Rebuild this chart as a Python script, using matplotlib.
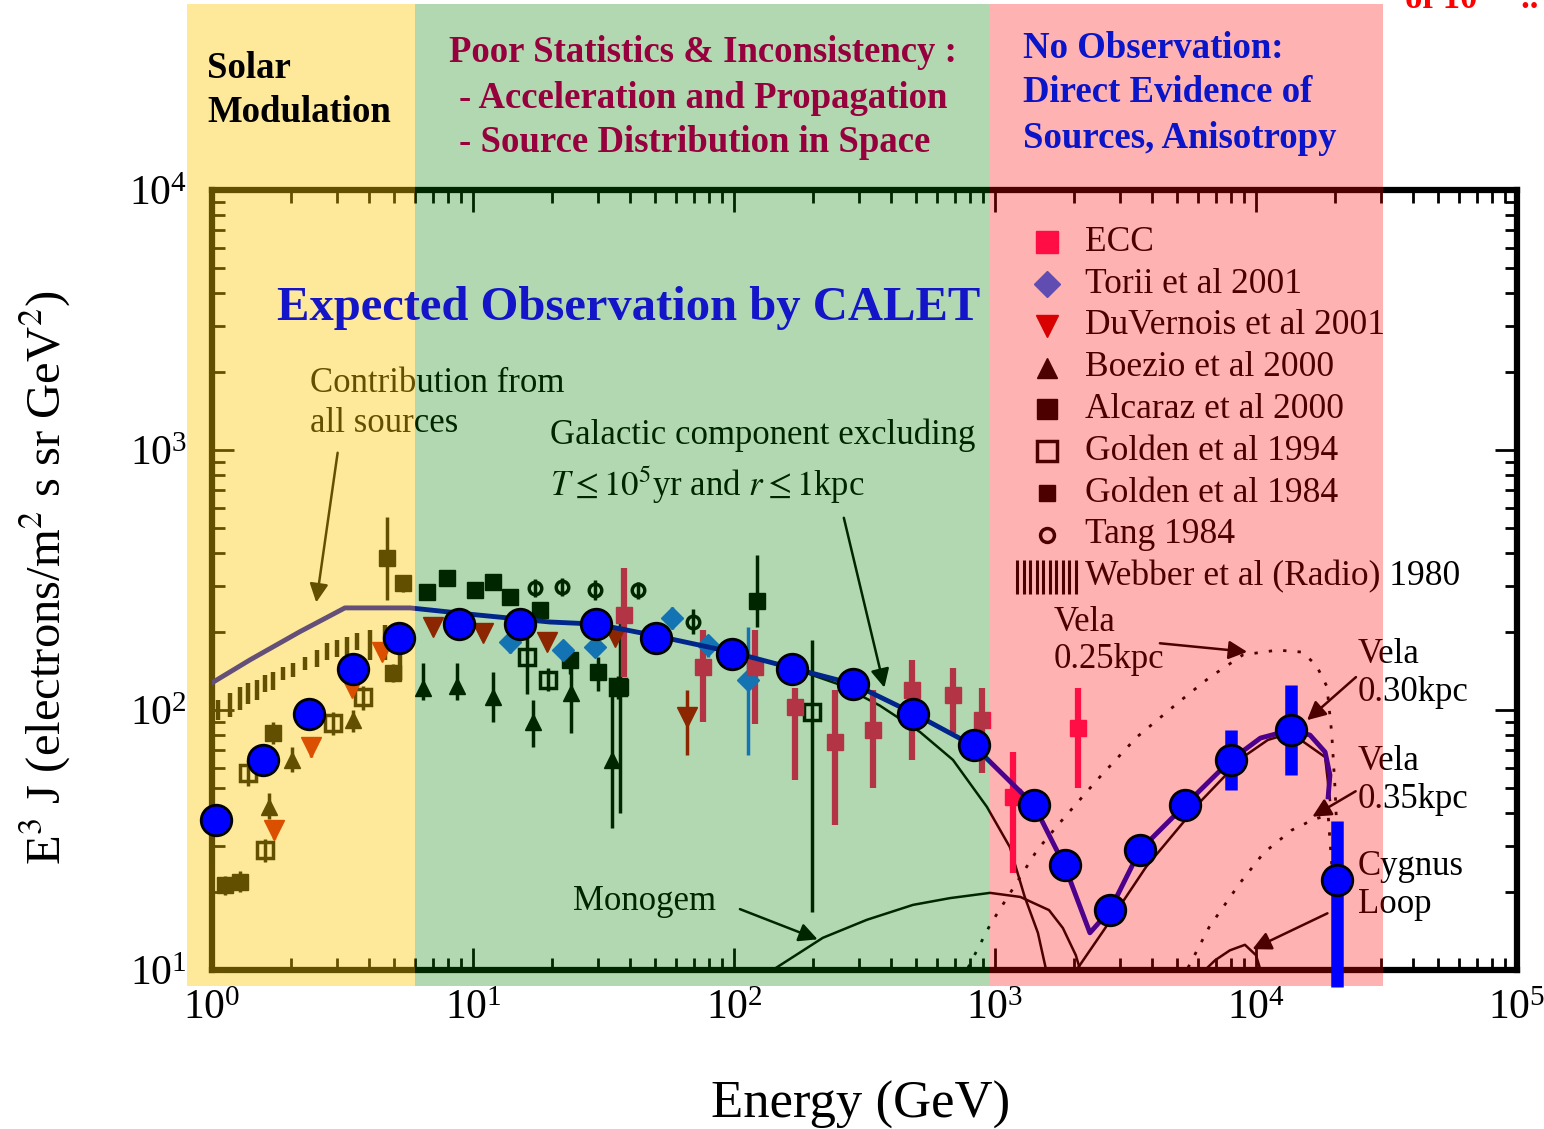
import matplotlib
matplotlib.use("Agg")
import matplotlib.pyplot as plt
import numpy as np
from matplotlib.patches import Rectangle

plt.rcParams["font.family"] = ["Liberation Serif", "DejaVu Serif"]
plt.rcParams["mathtext.fontset"] = "stix"

# CALET expected points (GeV, E^3 J)
calet_e = [1.04, 1.57, 2.35, 3.47, 5.2, 8.84, 15.1, 29.6, 50.2, 98.2, 167, 286, 485, 831,
           1410, 1850, 2760, 3590, 5350, 8020, 13600, 20400]
calet_j = [37.8, 64.3, 96.6, 144, 189, 214, 214, 214, 189, 164, 144, 126, 96.6, 73.3,
           43.1, 25.3, 17.0, 29.0, 43.1, 64.3, 83.8, 22.2]
calet_err_e = [8020, 13600, 20400]
calet_err_hi = [83.8, 124.7, 37.4]
calet_err_lo = [49.2, 56.2, 8.6]

# model curves
total_e = [1.01, 1.40, 2.17, 3.23, 5.74, 10.4, 19.7, 29.6, 50.2, 98.2, 167, 286, 485, 831,
           1410, 1850, 2310, 2760, 3590, 5350, 8020, 10400, 13600, 16100, 18400, 19200, 18900]
total_j = [128, 156, 200, 247, 247, 232, 218, 214, 193, 167, 145, 126, 97.3, 72.7,
           43.1, 25.1, 13.9, 17.0, 28.9, 43.1, 64.3, 78.0, 83.8, 80.1, 68.9, 56.2, 46.3]
galactic_e = [167, 255, 362, 516, 690, 931, 1140, 1300, 1460, 1570]
galactic_j = [145, 125, 104, 82.3, 64.3, 42.4, 29.7, 19.1, 13.9, 10.0]
monogem_e = [137, 219, 323, 485, 672, 957, 1250, 1610, 1820, 2040, 2120]
monogem_j = [9.83, 13.3, 15.6, 17.8, 18.9, 19.8, 19.1, 17.0, 14.5, 11.4, 10.0]
vela25_e = [788, 957, 1450, 1770, 2460, 3500, 5160, 6610, 8920, 12100, 15000, 17000,
            18700, 19500, 20100, 20400]
vela25_j = [10.2, 14.9, 28.9, 36.8, 53.8, 78.8, 109, 133, 163, 170, 167, 149, 123, 81.6,
            49.3, 34.5]
vela30_e = [2080, 2620, 3790, 6210, 8920, 11100, 13600, 18400, 19200]
vela30_j = [10.2, 14.3, 24.9, 45.1, 65.9, 76.7, 81.6, 65.9, 45.1]
vela35_e = [5490, 6610, 8680, 10700, 13700, 16500, 18900, 19200, 19700]
vela35_j = [10.2, 14.6, 21.6, 28.2, 34.5, 37.8, 39.5, 31.6, 22.2]
cygnus_e = [6380, 6970, 7940, 9070, 10000, 10400]
cygnus_j = [10.0, 10.9, 11.9, 12.5, 11.4, 10.0]

# measurements
ecc_e = [37.9, 76.1, 120, 171, 244, 341, 481, 690, 891, 1170, 2080]
ecc_j = [232, 146, 146, 103, 75.3, 83.8, 119, 114, 91.6, 46.3, 85.3]
ecc_hi = [352, 203, 203, 122, 119, 119, 156, 145, 122, 68.9, 122]
ecc_lo = [134, 90, 88, 53.8, 36.2, 50.2, 64.3, 81.7, 57.3, 23.6, 50.2]

torii_e = [13.9, 22.1, 29.3, 57.9, 79.5, 113]
torii_j = [183, 170, 175, 226, 178, 130]
torii_hi = [200, 185, 190, 250, 195, 208]
torii_lo = [165, 155, 160, 205, 160, 67.1]

duv_e = [1.73, 2.39, 3.44, 4.48, 7.02, 10.9, 19.2, 35.0, 66.1]
duv_j = [34.5, 72.1, 122, 167, 208, 198, 183, 191, 94]
duv_hi = [37, 78, 130, 178, 220, 210, 194, 202, 119]
duv_lo = [32, 66, 114, 156, 196, 186, 172, 180, 67]

boezio_e = [1.65, 2.03, 3.47, 6.43, 8.68, 11.9, 17.0, 23.7, 34.1]
boezio_j = [42.4, 64.3, 91.6, 122, 124, 112, 90, 116, 64.3]
boezio_hi = [48, 72, 100, 152, 152, 140, 109, 156, 130]
boezio_lo = [38, 58, 82, 109, 109, 90, 72, 81.6, 35.2]

alcaraz_e = [1.71, 4.94, 5.39, 6.66, 10.2, 13.9, 18.1, 23.5, 30.1, 36.6]
alcaraz_j = [81.6, 139, 308, 284, 289, 272, 243, 156, 140, 123]
alcaraz_hi = [90, 150, 330, 300, 305, 290, 260, 175, 160, 240]
alcaraz_lo = [74, 128, 285, 268, 272, 255, 226, 138, 118, 40]

golden94_e = [1.37, 1.60, 2.91, 3.79, 16.1, 19.4, 35.9, 199]
golden94_j = [57.3, 28.9, 89.1, 112, 160, 130, 123, 98.2]
golden94_hi = [64, 32, 98, 124, 200, 145, 135, 186]
golden94_lo = [51, 26, 80, 100, 115, 118, 110, 16.7]

golden84_e = [1.12, 1.28, 4.68, 7.95, 11.9, 122]
golden84_j = [21.2, 21.8, 384, 322, 311, 263]
golden84_hi = [23, 24, 552, 340, 330, 395]
golden84_lo = [19.5, 20, 265, 305, 295, 208]

tang_e = [17.3, 21.9, 29.3, 42.9, 69.6]
tang_j = [295, 297, 289, 289, 218]
tang_hi = [320, 322, 315, 312, 245]
tang_lo = [272, 275, 265, 268, 196]

webber_e = [1.05, 1.17, 1.28, 1.37, 1.49, 1.60, 1.71, 1.87, 2.04, 2.27, 2.52, 2.76, 3.01,
            3.29, 3.59, 4.03, 4.60, 5.25]
webber_hi = [109, 116, 123, 127, 130, 136, 140, 146, 152, 160, 170, 181, 186, 191, 198,
             203, 212, 212]
webber_lo = [91.6, 94, 100, 105, 109, 117, 119, 130, 134, 143, 146, 156, 160, 163, 170,
             156, 156, 130]

legend_labels = ["ECC", "Torii et al 2001", "DuVernois et al 2001", "Boezio et al 2000",
                 "Alcaraz et al 2000", "Golden et al 1994", "Golden et al 1984",
                 "Tang 1984", "Webber et al (Radio) 1980"]


def yerr(j, lo, hi):
    j = np.array(j)
    return [j - np.array(lo), np.array(hi) - j]


fig = plt.figure(figsize=(15.44, 11.29), dpi=100)
rect = [212 / 1544, 1 - 970 / 1129, 1305 / 1544, 780 / 1129]
ax = fig.add_axes(rect)
ax.set_xscale("log")
ax.set_yscale("log")
ax.set_xlim(1, 1e5)
ax.set_ylim(10, 1e4)

# curves
ax.plot(total_e, total_j, color="#0000c8", lw=3.5, zorder=3)
ax.plot(galactic_e, galactic_j, color="black", lw=1.8)
ax.plot(monogem_e, monogem_j, color="black", lw=1.8)
ax.plot(vela25_e, vela25_j, color="black", lw=2, ls=(0, (1.2, 4)))
ax.plot(vela30_e, vela30_j, color="black", lw=1.8)
ax.plot(vela35_e, vela35_j, color="black", lw=2, ls=(0, (1.2, 4)))
ax.plot(cygnus_e, cygnus_j, color="black", lw=1.8)

# data sets
ax.vlines(webber_e, webber_lo, webber_hi, color="black", lw=3.2)
ax.errorbar(golden84_e, golden84_j, yerr=yerr(golden84_j, golden84_lo, golden84_hi),
            fmt="s", ms=11, color="black", elinewidth=2.5, capsize=0)
ax.errorbar(alcaraz_e, alcaraz_j, yerr=yerr(alcaraz_j, alcaraz_lo, alcaraz_hi),
            fmt="s", ms=12, color="black", elinewidth=2.5, capsize=0)
ax.errorbar(golden94_e, golden94_j, yerr=yerr(golden94_j, golden94_lo, golden94_hi),
            fmt="s", ms=11, mfc="none", mec="black", mew=2.5, color="black",
            elinewidth=2.5, capsize=0)
ax.errorbar(tang_e, tang_j, yerr=yerr(tang_j, tang_lo, tang_hi),
            fmt="o", ms=9, mfc="none", mec="black", mew=2.5, color="black",
            elinewidth=2.5, capsize=0)
ax.errorbar(boezio_e, boezio_j, yerr=yerr(boezio_j, boezio_lo, boezio_hi),
            fmt="^", ms=12, color="black", elinewidth=2.5, capsize=0)
ax.errorbar(duv_e, duv_j, yerr=yerr(duv_j, duv_lo, duv_hi),
            fmt="v", ms=14, color="#c80000", elinewidth=2.5, capsize=0)
ax.errorbar(torii_e, torii_j, yerr=yerr(torii_j, torii_lo, torii_hi),
            fmt="D", ms=11, color="#1e6eff", elinewidth=2.5, capsize=0)
ax.errorbar(ecc_e, ecc_j, yerr=yerr(ecc_j, ecc_lo, ecc_hi),
            fmt="s", ms=12, color="#ff1464", elinewidth=4.5, capsize=0)

# annotations
tfont = dict(fontsize=25, color="black")
ax.text(2.37, 1810, "Contribution from", va="center", **tfont)
ax.text(2.37, 1270, "all sources", va="center", **tfont)
ax.text(19.7, 1140, "Galactic component excluding", va="center", **tfont)
ax.text(19.7, 733, r"$T \leq 10^5$yr and $r \leq 1$kpc", va="center", **tfont)
ax.text(24.2, 18.3, "Monogem", va="center", **tfont)
ax.text(1670, 218, "Vela", va="center", **tfont)
ax.text(1670, 157, "0.25kpc", va="center", **tfont)
ax.text(24600, 163, "Vela", va="center", **tfont)
ax.text(24600, 117, "0.30kpc", va="center", **tfont)
ax.text(24600, 63.1, "Vela", va="center", **tfont)
ax.text(24600, 45.1, "0.35kpc", va="center", **tfont)
ax.text(24600, 25.1, "Cygnus", va="center", **tfont)
ax.text(24600, 17.8, "Loop", va="center", **tfont)

aprops = dict(arrowstyle="-|>", color="black", lw=1.8, mutation_scale=28)
ax.annotate("", xy=(2.50, 253), xytext=(3.04, 1000), arrowprops=aprops)
ax.annotate("", xy=(379, 119), xytext=(262, 562), arrowprops=aprops)
ax.annotate("", xy=(214, 13.0), xytext=(103, 17.3), arrowprops=aprops)
ax.annotate("", xy=(9480, 167), xytext=(4180, 181), arrowprops=aprops)
ax.annotate("", xy=(15400, 89.9), xytext=(24600, 136), arrowprops=aprops)
ax.annotate("", xy=(16100, 38.4), xytext=(24600, 49.3), arrowprops=aprops)
ax.annotate("", xy=(9480, 11.9), xytext=(19200, 16.7), arrowprops=aprops)

# legend drawn by hand
leg_styles = [
    dict(marker="s", ms=16, color="#ff1464"),
    dict(marker="D", ms=13, color="#1e6eff"),
    dict(marker="v", ms=16, color="#c80000"),
    dict(marker="^", ms=15, color="black"),
    dict(marker="s", ms=15, color="black"),
    dict(marker="s", ms=15, mfc="none", mec="black", mew=2.5),
    dict(marker="s", ms=12, color="black"),
    dict(marker="o", ms=10, mfc="none", mec="black", mew=2.5),
]
for i, label in enumerate(legend_labels):
    ly = 0.933 - i * 0.0536
    if i < len(leg_styles):
        ax.plot([0.640], [ly], transform=ax.transAxes, ls="none", **leg_styles[i])
    else:
        ax.vlines(np.linspace(0.617, 0.662, 10), ly - 0.022, ly + 0.022,
                  transform=ax.transAxes, color="black", lw=2.2)
    ax.text(0.669, ly, label, transform=ax.transAxes, va="center", fontsize=25.5)

# axes styling
for sp in ax.spines.values():
    sp.set_linewidth(4.5)
ax.tick_params(which="both", direction="in", top=True, right=True, width=2)
ax.tick_params(which="major", length=16, labelsize=30)
ax.tick_params(which="minor", length=9)
ax.tick_params(axis="x", which="major", pad=14)
ax.tick_params(axis="y", which="major", pad=18)
ax.set_xlabel("Energy (GeV)", fontsize=38)
ax.xaxis.set_label_coords(0.497, -0.173)
ax.xaxis.label.set_va("center")
ax.set_ylabel(r"E$^3$ J (electrons/m$^2$ s sr GeV$^2$)", fontsize=35)
ax.yaxis.set_label_coords(-0.128, 0.503)
ax.yaxis.label.set_va("center")

# coloured regions laid over the chart
regions = [(187, 415, "#fac800", 0.4), (415, 990, "#008000", 0.3), (990, 1383, "#ff0000", 0.3)]
for x0, x1, c, a in regions:
    fig.add_artist(Rectangle((x0 / 1544, 1 - 986 / 1129), (x1 - x0) / 1544, 982 / 1129,
                             transform=fig.transFigure, facecolor=c, alpha=a,
                             edgecolor="none", zorder=1))

# overlay axes for the CALET expectation
ax2 = fig.add_axes(rect, zorder=3)
ax2.set_xscale("log")
ax2.set_yscale("log")
ax2.set_xlim(1, 1e5)
ax2.set_ylim(10, 1e4)
ax2.axis("off")
ax2.vlines(calet_err_e, calet_err_lo, calet_err_hi, color="#0000ff", lw=9, clip_on=False)
ax2.plot(calet_e, calet_j, "o", ms=22, mfc="#0000ff", mec="black", mew=2, clip_on=False)
ax2.text(39.6, 3520, "Expected Observation by CALET", ha="center", va="center",
         fontsize=35, fontweight="bold", color="#1414c8")

# header texts
heads = [
    ("Solar", 207, 68, "black"), ("Modulation", 207, 113, "black"),
    ("Poor Statistics & Inconsistency :", 449, 52, "#96003c"),
    ("- Acceleration and Propagation", 459, 98, "#96003c"),
    ("- Source Distribution in Space", 459, 143, "#96003c"),
    ("No Observation:", 1023, 48, "#0a14c8"),
    ("Direct Evidence of", 1023, 93, "#0a14c8"),
    ("Sources, Anisotropy", 1023, 138, "#0a14c8"),
]
for txt, x, y, c in heads:
    fig.text(x / 1544, 1 - y / 1129, txt, ha="left", va="center", fontsize=26.5,
             fontweight="bold", color=c, zorder=4)
fig.text(1405 / 1544, 1 - 8 / 1129, "of 10     ..", ha="left", va="baseline",
         fontsize=25, fontweight="bold", color="#ff0000", zorder=4)

fig.savefig("out.png", dpi=100)
